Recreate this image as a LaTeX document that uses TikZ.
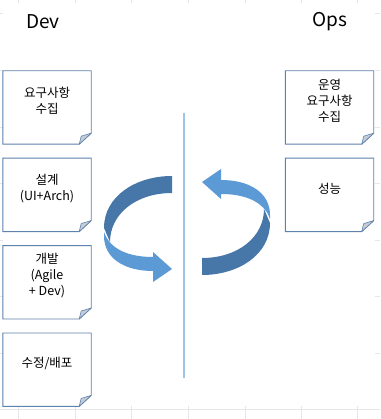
\documentclass[tikz,border=0pt]{standalone}
\usepackage{fontspec}
\setmainfont{Noto Sans CJK KR}
\usetikzlibrary{positioning}
\definecolor{NoteLine}{HTML}{5E82AE}
\definecolor{NoteFold}{HTML}{C6CCD6}
\definecolor{CycleDark}{HTML}{4677A8}
\definecolor{CycleLight}{HTML}{5B9AD4}
\definecolor{SplitLine}{HTML}{9DC3E6}
\definecolor{GridGray}{HTML}{E6E6E6}
\tikzset{
    % Note boxes - folded corner drawn afterwards
    note/.style={
        rectangle,
        minimum width=88pt,
        minimum height=73pt,
        inner sep=0pt
    },
    notetext/.style={
        align=center,
        inner sep=0pt,
        font=\fontsize{12.5}{16}\selectfont
    },
    noteline/.style={
        draw=NoteLine,
        fill=white,
        line width=0.9pt
    },
    notefold/.style={
        draw=NoteLine,
        fill=NoteFold,
        line width=0.6pt,
        line join=round
    },
    % Column titles
    title/.style={
        font=\fontsize{19}{22}\selectfont
    },
    % Cycle arrows
    backside/.style={
        fill=CycleDark
    },
    frontside/.style={
        fill=CycleLight
    },
    divider/.style={
        draw=SplitLine,
        line width=1.2pt
    },
    gridline/.style={
        draw=GridGray,
        line width=0.8pt
    }
}

\begin{document}
\begin{tikzpicture}[x=1pt, y=-1pt]
    \useasboundingbox (0,0) rectangle (380,419);

    % Sheet grid, covered in the middle
    \foreach \gx in {18,75,131,188,245,301,357} {
        \draw[gridline] (\gx,0) -- (\gx,419);
    }
    \foreach \gy in {13,70,127,183,240,296,353,409} {
        \draw[gridline] (0,\gy) -- (380,\gy);
    }
    \fill[white] (3,3) rectangle (375,406);

    % Titles
    \node[title] (dev) at (43,22) {Dev};
    \node[title] (ops) at (330,22) {Ops};

    % Dev boxes
    \node[note] (req) at (47,107.5) {};
    \node[note, below=14pt of req] (design) {};
    \node[note, below=14pt of design] (build) {};
    \node[note, below=14pt of build] (deploy) {};

    % Ops boxes
    \node[note] (opsreq) at (329.5,107.5) {};
    \node[note, below=14pt of opsreq] (perf) {};

    % Outlines with folded corner
    \foreach \n in {req,design,build,deploy,opsreq,perf} {
        \draw[noteline] (\n.north west) -- (\n.north east) -- ([yshift=11pt]\n.south east)
            -- ([xshift=-12pt]\n.south east) -- (\n.south west) -- cycle;
        \draw[notefold] ([yshift=11pt]\n.south east) -- ([xshift=-12pt]\n.south east)
            -- ([xshift=-10pt,yshift=8pt]\n.south east) -- cycle;
    }

    % Box texts
    \node[notetext] (reqt) at ([yshift=6.5pt]req.center) {요구사항\\수집};
    \node[notetext] (designt) at ([yshift=6.5pt]design.center) {설계\\(UI+Arch)};
    \node[notetext] (buildt) at ([yshift=6.5pt]build.center) {개발\\(Agile\\+ Dev)};
    \node[notetext] (deployt) at ([yshift=6.5pt]deploy.center) {수정/배포};
    \node[notetext] (opsreqt) at ([yshift=6.5pt]opsreq.center) {운영\\요구사항\\수집};
    \node[notetext] (perft) at ([yshift=6.5pt]perf.center) {성능};

    % Cycle arrows
    \foreach \r in {0,180} {
        \begin{scope}[rotate around={\r:(187,225.5)}]
            \fill[backside] (172,176) .. controls (136,176) and (104,196) .. (104,228)
                -- (110,242) .. controls (110,214) and (136,193) .. (172,193) -- cycle;
            \fill[frontside] (104,232) .. controls (110,250) and (130,257) .. (153,257)
                -- (153,252) -- (172,269) -- (153,282) -- (153,271)
                .. controls (124,271) and (104,258) .. (104,236) -- cycle;
        \end{scope}
    }

    % Divider
    \coordinate (splittop) at (184,113);
    \coordinate (splitbot) at (184,378);
    \draw[divider] (splittop) -- (splitbot);
\end{tikzpicture}
\end{document}
